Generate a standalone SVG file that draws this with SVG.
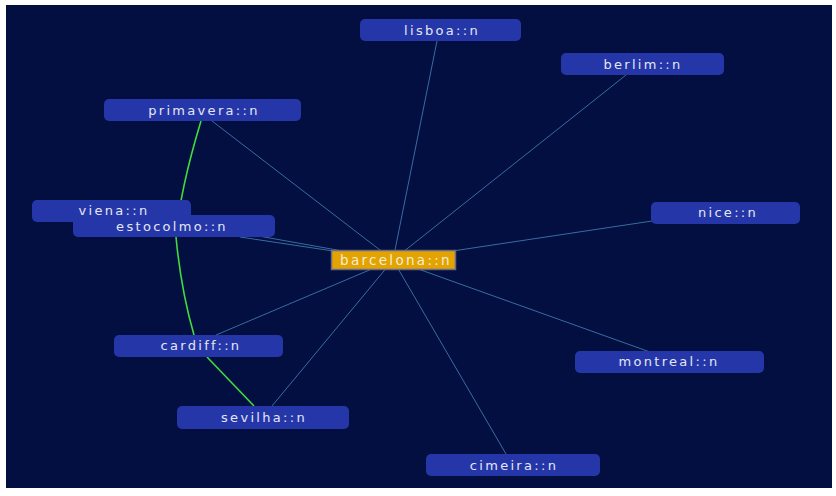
<svg xmlns="http://www.w3.org/2000/svg" width="836" height="496" viewBox="0 0 836 496">
<style>
.n rect{fill:#2537a8;}
.n text, #barcelona text{font-family:"DejaVu Sans","Liberation Sans",sans-serif;font-size:13px;fill:#e4e6f4;text-anchor:middle;letter-spacing:2.3px;}
.e{stroke:#3a6ca2;stroke-width:1;fill:none;}
.g{stroke:#3fdc3f;stroke-width:1.6;fill:none;}
</style>
<rect x="0" y="0" width="836" height="496" fill="#ffffff"/>
<rect x="6" y="5" width="826" height="483" fill="#020f40"/>
<g id="edges">
<line class="e" x1="393" y1="260" x2="437" y2="41"/>
<line class="e" x1="393" y1="260" x2="626" y2="75"/>
<line class="e" x1="393" y1="260" x2="212" y2="121"/>
<line class="e" x1="393" y1="260" x2="180" y2="222"/>
<line class="e" x1="393" y1="260" x2="240" y2="237"/>
<line class="e" x1="393" y1="260" x2="652" y2="221"/>
<line class="e" x1="393" y1="260" x2="650" y2="352"/>
<line class="e" x1="393" y1="260" x2="506" y2="454"/>
<line class="e" x1="393" y1="260" x2="272" y2="406"/>
<line class="e" x1="393" y1="260" x2="216" y2="335"/>
<path class="g" d="M201 121 Q180 190 176 237 Q181 290 194 335"/>
<line class="g" x1="207" y1="357" x2="254" y2="406"/>
</g>
<g id="lisboa" class="n"><rect x="360" y="19" width="161" height="22" rx="5"/><text x="442" y="35">lisboa::n</text></g>
<g id="berlim" class="n"><rect x="561" y="53" width="163" height="22" rx="5"/><text x="643" y="69">berlim::n</text></g>
<g id="primavera" class="n"><rect x="104" y="99" width="197" height="22" rx="5"/><text x="204" y="115">primavera::n</text></g>
<g id="viena" class="n"><rect x="32" y="200" width="159" height="22" rx="5"/><text x="114" y="215">viena::n</text></g>
<g id="estocolmo" class="n"><rect x="73" y="215" width="202" height="22" rx="5"/><text x="172" y="231">estocolmo::n</text></g>
<g id="nice" class="n"><rect x="651" y="202" width="149" height="22" rx="5"/><text x="728" y="217">nice::n</text></g>
<g id="barcelona"><rect x="331.5" y="250.5" width="124" height="19" fill="#e3a300" stroke="#6a6a8a" stroke-width="1.5"/><text x="396" y="265" style="font-size:13.5px;fill:#f4eed8">barcelona::n</text></g>
<g id="cardiff" class="n"><rect x="114" y="335" width="169" height="22" rx="5"/><text x="201" y="350">cardiff::n</text></g>
<g id="montreal" class="n"><rect x="575" y="351" width="189" height="22" rx="5"/><text x="669" y="366">montreal::n</text></g>
<g id="sevilha" class="n"><rect x="177" y="406" width="172" height="23" rx="5"/><text x="264" y="422">sevilha::n</text></g>
<g id="cimeira" class="n"><rect x="426" y="454" width="174" height="22" rx="5"/><text x="514" y="470">cimeira::n</text></g>
</svg>
